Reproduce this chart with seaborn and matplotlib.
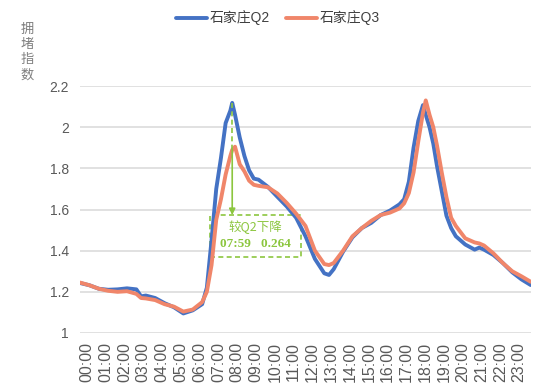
import matplotlib
matplotlib.use("Agg")
import matplotlib.pyplot as plt
import matplotlib.transforms as mtransforms
from matplotlib.patches import Rectangle
from matplotlib.lines import Line2D
import seaborn as sns
import numpy as np
import pandas as pd

# ---------------- data ----------------
times = ["00:00", "00:30", "01:00", "01:30", "02:00", "02:30", "03:00", "03:15", "03:30",
         "04:00", "04:30", "05:00", "05:30", "06:00", "06:30", "06:45", "07:00", "07:15",
         "07:30", "07:45", "08:00", "08:06", "08:15", "08:30", "08:45", "09:00", "09:15",
         "09:30", "10:00", "10:30", "11:00", "11:30", "12:00", "12:30", "13:00", "13:15",
         "13:30", "14:00", "14:30", "15:00", "15:30", "16:00", "16:30", "17:00", "17:15",
         "17:30", "17:45", "18:00", "18:15", "18:24", "18:36", "18:48", "19:00", "19:15",
         "19:30", "19:45", "20:00", "20:30", "21:00", "21:15", "21:30", "22:00", "22:30",
         "23:00", "23:30", "23:59"]

q2 = [1.243, 1.232, 1.215, 1.210, 1.212, 1.217, 1.212, 1.178, 1.182,
      1.170, 1.145, 1.125, 1.095, 1.110, 1.140, 1.220, 1.450, 1.700,
      1.850, 2.020, 2.080, 2.118, 2.060, 1.950, 1.860, 1.790, 1.750,
      1.745, 1.710, 1.662, 1.615, 1.560, 1.470, 1.360, 1.290, 1.282,
      1.310, 1.395, 1.465, 1.510, 1.535, 1.573, 1.595, 1.625, 1.650,
      1.735, 1.900, 2.030, 2.107, 2.060, 2.000, 1.920, 1.810, 1.690,
      1.570, 1.510, 1.470, 1.430, 1.405, 1.415, 1.405, 1.379, 1.340,
      1.295, 1.260, 1.233]

q3 = [1.245, 1.232, 1.215, 1.205, 1.200, 1.203, 1.190, 1.170, 1.168,
      1.160, 1.140, 1.128, 1.104, 1.114, 1.150, 1.200, 1.330, 1.550,
      1.650, 1.770, 1.860, 1.890, 1.905, 1.820, 1.785, 1.740, 1.720,
      1.715, 1.708, 1.678, 1.632, 1.580, 1.520, 1.400, 1.335, 1.330,
      1.340, 1.400, 1.470, 1.510, 1.545, 1.573, 1.585, 1.605, 1.630,
      1.680, 1.780, 1.930, 2.070, 2.130, 2.060, 2.000, 1.910, 1.780,
      1.660, 1.560, 1.520, 1.460, 1.440, 1.435, 1.425, 1.387, 1.340,
      1.300, 1.275, 1.249]

series_names = ["石家庄Q2", "石家庄Q3"]
hour_labels = [f"{h:02d}:00" for h in range(24)]
y_ticks = [1, 1.2, 1.4, 1.6, 1.8, 2, 2.2]
y_label = "拥堵指数"
note_title = "较Q2下降"
note_time = "07:59"
note_value = "0.264"

# ---------------- build table ----------------
hours = [int(t[:2]) + int(t[3:]) / 60 for t in times]
df = pd.DataFrame({
    "hour": hours * 2,
    "value": q2 + q3,
    "series": [series_names[0]] * len(q2) + [series_names[1]] * len(q3),
})

# ---------------- style ----------------
sns.set_theme(style="white")
plt.rcParams["font.family"] = ["Liberation Sans", "Noto Sans CJK SC", "DejaVu Sans"]

blue = "#4472C4"
orange = "#F0866A"
green = "#8CC63F"
grid_c = "#D9D9D9"
tick_c = "#595959"
lw = 2.8

fig = plt.figure(figsize=(5.5, 3.92), dpi=100)
ax = fig.add_axes([80 / 550, (392 - 333) / 392, 451 / 550, 247 / 392])

sns.lineplot(data=df, x="hour", y="value", hue="series",
             palette=[blue, orange], linewidth=lw, ax=ax, legend=False)

ax.set_xlim(0, 24)
ax.set_ylim(1, 2.2)
ax.set_yticks(y_ticks)
ax.set_yticklabels([f"{v:g}" for v in y_ticks], fontsize=10, color=tick_c)
ax.set_xticks(range(24))
ax.set_xticklabels(hour_labels, rotation=90, fontsize=11.5, color=tick_c)
ax.tick_params(axis="y", length=0, pad=8)
ax.tick_params(axis="x", length=0, pad=6.5)
offset = mtransforms.ScaledTranslation(7 / 100, 0, fig.dpi_scale_trans)
for lab in ax.get_xticklabels():
    lab.set_transform(lab.get_transform() + offset)

ax.grid(axis="y", color=grid_c, linewidth=1.1)
ax.set_axisbelow(True)
for s in ax.spines.values():
    s.set_visible(False)
ax.set_xlabel("")
ax.set_ylabel("")

# legend
handles = [Line2D([], [], color=blue, lw=lw), Line2D([], [], color=orange, lw=lw)]
fig.legend(handles, series_names, loc="center", bbox_to_anchor=(278 / 550, 1 - 18 / 392),
           ncol=2, frameon=False, fontsize=10, handlelength=2.2, handletextpad=0.2,
           columnspacing=1.2, labelcolor="#404040")

# y label stacked vertically
fig.text(27 / 550, 1 - 24 / 392, "\n".join(y_label), ha="center", va="top",
         fontsize=9.5, color="#7F7F7F", linespacing=1.35)

# ---------------- annotation ----------------
i2 = int(np.argmax(q2[:30]))
x_peak = hours[i2]
y2 = q2[i2]
y3 = q3[i2]
box_top = 1.573
box_bot = 1.369
ax.plot([x_peak, x_peak], [y2, y3], color=green, lw=1.2, ls=(0, (3, 2)))
ax.annotate("", xy=(x_peak, box_top), xytext=(x_peak, y3),
            arrowprops=dict(arrowstyle="-|>", color=green, lw=1.2, mutation_scale=9,
                            shrinkA=0, shrinkB=0))
ax.add_patch(Rectangle((6.9, box_bot), 11.74 - 6.9, box_top - box_bot, fill=False,
                       edgecolor=green, lw=1.2, ls=(0, (3, 2))))
xc = (6.9 + 11.74) / 2
ax.text(xc, 1.514, note_title, ha="center", va="center", fontsize=9,
        color=green, family=["Noto Sans CJK SC", "DejaVu Sans"])
ax.text(xc, 1.434, f"{note_time}   {note_value}", ha="center", va="center", fontsize=9.5,
        color=green, fontweight="bold", family=["Liberation Serif", "DejaVu Serif"])

fig.savefig("out.png", dpi=100)
